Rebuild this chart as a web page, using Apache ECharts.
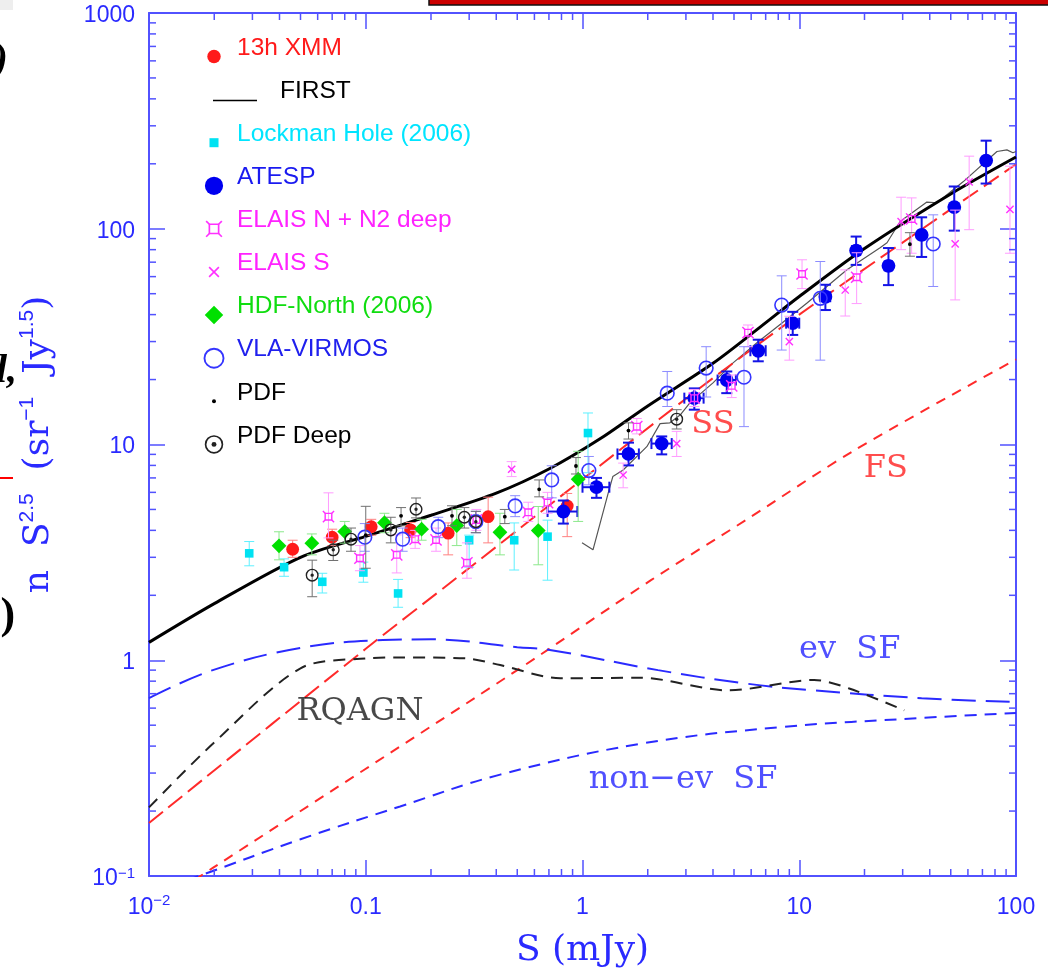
<!DOCTYPE html>
<html>
<head>
<meta charset="utf-8">
<script src="https://cdn.jsdelivr.net/npm/echarts@6/dist/echarts.min.js"></script>
<style>
  html, body { margin: 0; padding: 0; background: #ffffff; }
  #chart { width: 1048px; height: 970px; }
</style>
</head>
<body>
<div id="chart"></div>
<script>
// Euclidean-normalized radio source counts n S^2.5 versus flux density S (mJy)

// ---- axes ----
const xTickValues = [0.01, 0.1, 1, 10, 100];
const xTickLabels = ['{b|10}{sup|−2}', '{b|0.1}', '{b|1}', '{b|10}', '{b|100}'];
const yTickValues = [0.1, 1, 10, 100, 1000];
const yTickLabels = ['{b|10}{sup|−1}', '{b|1}', '{b|10}', '{b|100}', '{b|1000}'];
const minorMantissas = [2, 3, 4, 5, 6, 7, 8, 9];
const xDecades = [0.01, 0.1, 1, 10];
const yDecades = [0.1, 1, 10, 100];

// ---- survey data: [S, n S^2.5, low, high] ----
const xmm13h = [
  [0.046, 3.27, 3.0, 3.6], [0.070, 3.72, 3.4, 4.05], [0.106, 4.16, 3.8, 4.5],
  [0.161, 4.02, 3.7, 4.35], [0.240, 3.88, 3.08, 4.33], [0.367, 4.63, 3.5, 5.7],
  [0.85, 5.19, 3.74, 5.93]
];
const lockmanHole = [
  [0.029, 3.13, 2.74, 3.55], [0.042, 2.70, 2.45, 2.95], [0.063, 2.31, 2.05, 2.53],
  [0.0975, 2.55, 2.3, 2.85], [0.141, 2.04, 1.76, 2.37], [0.30, 3.6, 2.7, 3.8],
  [0.484, 3.6, 2.62, 4.33], [0.69, 3.74, 2.35, 4.46], [1.06, 11.3, 7.4, 14.0]
];
// ATESP also carries horizontal bars: [S, value, low, high, Slow, Shigh]
const atesp = [
  [0.816, 4.89, 4.3, 5.5, 0.69, 0.947], [1.16, 6.34, 5.66, 7.0, 1.0, 1.33],
  [1.63, 9.04, 8.0, 10.2, 1.45, 1.82], [2.32, 10.1, 9.0, 10.9, 2.08, 2.58],
  [3.28, 16.4, 14.5, 18.2, 2.95, 3.62], [4.63, 19.9, 17.3, 21.8, 4.2, 5.1],
  [6.47, 27.2, 24.3, 30.6, 5.95, 7.0], [9.33, 36.5, 32.2, 41.2, 8.7, 10.0],
  [13.2, 48.4, 42, 55, 12.5, 13.9], [18.3, 79.2, 68, 92, 17.5, 19.1],
  [25.8, 67.3, 54.8, 81.4, 24.8, 26.8], [36.7, 93.6, 74, 113, 35.5, 37.9],
  [51.9, 126, 98, 157, 50.5, 53.3], [72.8, 207, 162, 256, 70.9, 74.7]
];
const elaisN = [
  [0.0673, 4.63, 3.69, 5.97], [0.094, 2.97, 2.6, 3.4], [0.139, 3.08, 2.54, 3.81],
  [0.169, 3.64, 3.3, 4.0], [0.211, 3.61, 3.2, 4.1], [0.293, 2.83, 2.4, 3.5],
  [0.324, 4.47, 4.0, 5.0], [0.562, 4.85, 4.4, 5.4], [0.69, 5.38, 4.8, 6.0],
  [1.78, 12.1, 11.2, 13.2], [3.28, 16.4, 15.0, 18.0], [4.88, 18.7, 16.5, 21.0],
  [5.8, 33.0, 28.4, 35.8], [10.3, 61.7, 52.8, 71.8], [18.4, 59.6, 45, 77.4],
  [33.0, 111, 77, 139]
];
const elaisS = [
  [0.471, 7.68, 7.1, 8.33], [1.54, 7.22, 6.3, 8.2], [2.72, 10.1, 8.8, 11.5],
  [9.0, 30, 24.6, 39.3], [16.3, 52, 39.4, 64.5], [29.5, 108, 80, 140],
  [52.4, 85.1, 46.8, 122], [60.8, 165, 99, 217], [93.8, 123, 77, 195]
];
const hdfNorth = [
  [0.0398, 3.39, 2.92, 3.94], [0.0564, 3.49, 3.08, 3.85], [0.080, 3.95, 3.49, 4.4],
  [0.122, 4.34, 3.9, 4.8], [0.181, 4.05, 3.6, 4.5], [0.263, 4.21, 3.4, 5.0],
  [0.416, 3.92, 3.08, 4.8], [0.625, 3.99, 2.77, 5.16], [0.955, 6.9, 4.4, 9.3]
];
const vlaVirmos = [
  [0.099, 3.72, 3.2, 4.3], [0.148, 3.64, 3.2, 4.1], [0.216, 4.16, 3.7, 4.6],
  [0.322, 4.39, 3.9, 4.9], [0.489, 5.19, 4.63, 5.79], [0.721, 6.85, 5.66, 7.97],
  [1.07, 7.57, 6.5, 8.8], [2.46, 17.3, 15.0, 21.8], [3.72, 22.6, 16.6, 28.4],
  [5.56, 20.5, 12.1, 28.4], [8.3, 44.3, 27.4, 60.5], [12.5, 47.6, 24.6, 70.5],
  [41.5, 85, 54, 116]
];
const pdf = [
  [0.1, 3.8, 2.67, 5.17], [0.1455, 4.67, 4.2, 5.1], [0.25, 4.67, 4.2, 5.2],
  [0.438, 4.63, 4.3, 5.0], [0.631, 6.2, 5.72, 6.85], [0.933, 7.95, 7.3, 8.7],
  [1.63, 11.6, 10.6, 12.6], [32.4, 84.8, 74.6, 95.9]
];
const pdfDeep = [
  [0.0566, 2.48, 1.97, 2.91], [0.0708, 3.25, 2.9, 3.6], [0.0855, 3.64, 3.2, 4.1],
  [0.1305, 4.02, 3.5, 4.6], [0.1706, 5.01, 4.57, 5.65], [0.285, 4.6, 4.1, 5.1],
  [0.322, 4.39, 3.9, 4.9], [2.72, 13.1, 11.8, 14.5]
];

// ---- FIRST counts ----
const firstS   = [0.995, 1.118, 1.325, 1.38, 1.54, 1.98, 2.28, 2.53, 2.82, 3.13, 4.0, 4.95, 6.38, 8.3, 10.9, 16.6, 23.6, 25.4, 29.2, 38.8, 43.2, 57, 81.7, 90.8, 96.8, 100];
const firstVal = [3.50, 3.25, 6.15, 7.1, 7.62, 9.77, 12.5, 12.6, 13.7, 15.6, 19.3, 23.9, 29.6, 36.5, 45.4, 64.6, 81.7, 86.1, 108, 133, 132, 165, 228, 232, 225, 228];

// ---- model components ----
const totalS   = [0.01, 0.02, 0.05, 0.1, 0.2, 0.4, 0.7, 1.2, 2.0, 4.0, 6.6, 10, 20, 50, 100];
const totalVal = [1.21, 1.83, 3.0, 3.75, 4.7, 5.95, 7.7, 10.6, 15.1, 23.8, 35.0, 48.5, 81, 145, 215];
const ssS   = [0.01, 0.1, 0.264, 1, 3.24, 10, 100];
const ssVal = [0.176, 1.13, 2.42, 6.9, 17.3, 40, 199];
const fsS   = [0.01, 0.0197, 0.5, 2.07, 5.68, 18.1, 100];
const fsVal = [0.07, 0.109, 0.90, 2.35, 4.47, 9.44, 24.8];
const evSfS   = [0.01, 0.0197, 0.05, 0.12, 0.2, 0.5, 0.73, 2.23, 5.66, 11.7, 36.7, 100];
const evSfVal = [0.667, 0.90, 1.14, 1.24, 1.25, 1.15, 1.11, 0.90, 0.78, 0.725, 0.667, 0.64];
const nonEvSfS   = [0.01, 0.017, 0.05, 0.144, 0.417, 1.85, 8.24, 36.7, 100];
const nonEvSfVal = [0.083, 0.1, 0.148, 0.21, 0.295, 0.41, 0.49, 0.54, 0.57];
const rqagnS   = [0.01, 0.0197, 0.05, 0.1, 0.144, 0.29, 0.417, 0.79, 1.85, 4.7, 11.7, 17, 30.5];
const rqagnVal = [0.208, 0.41, 0.918, 1.02, 1.03, 1.02, 0.95, 0.825, 0.83, 0.725, 0.81, 0.74, 0.586];

// ---- curve annotations ----
const annoText = ['SS', 'FS', 'ev  SF', 'non−ev  SF', 'RQAGN'];
const annoS    = [4.0, 25.1, 17.1, 2.91, 0.094];
const annoVal  = [12.3, 7.7, 1.12, 0.279, 0.575];

// ---- styling ----
const AXIS = '#5252ff';
const LABEL = '#2a2aff';
const SERIF = '"DejaVu Serif", "Liberation Serif", serif';
const SANS = '"Liberation Sans", Arial, Helvetica, sans-serif';
const X_MIN = 0.01, X_MAX = 100, Y_MIN = 0.1, Y_MAX = 1000;

const pairs = (xs, ys) => xs.map((x, i) => [x, ys[i]]);

function marker(kind, x, y, color, k) {
  switch (kind) {
    case 'disc':
      return [{ type: 'circle', shape: { cx: x, cy: y, r: 6.4 * k }, style: { fill: color } }];
    case 'square': {
      const h = 4.3 * k;
      return [{ type: 'rect', shape: { x: x - h, y: y - h, width: 2 * h, height: 2 * h }, style: { fill: color } }];
    }
    case 'diamond': {
      const h = 7.4 * k;
      return [{ type: 'polygon', shape: { points: [[x, y - h], [x + h, y], [x, y + h], [x - h, y]] }, style: { fill: color } }];
    }
    case 'ring':
      return [{ type: 'circle', shape: { cx: x, cy: y, r: 6.8 * k }, style: { fill: 'none', stroke: color, lineWidth: 1.6 * Math.sqrt(k) } }];
    case 'ringdot':
      return [
        { type: 'circle', shape: { cx: x, cy: y, r: 5.8 * k }, style: { fill: 'none', stroke: color, lineWidth: 1.4 * Math.sqrt(k) } },
        { type: 'circle', shape: { cx: x, cy: y, r: 1.7 * k }, style: { fill: color } }
      ];
    case 'star4': {
      const h = 3.3 * k, s = 2.3 * k, st = { stroke: color, lineWidth: 1.4 * Math.sqrt(k), fill: 'none' };
      return [
        { type: 'rect', shape: { x: x - h, y: y - h, width: 2 * h, height: 2 * h }, style: st },
        { type: 'line', shape: { x1: x - h, y1: y - h, x2: x - h - s, y2: y - h - s }, style: st },
        { type: 'line', shape: { x1: x + h, y1: y - h, x2: x + h + s, y2: y - h - s }, style: st },
        { type: 'line', shape: { x1: x - h, y1: y + h, x2: x - h - s, y2: y + h + s }, style: st },
        { type: 'line', shape: { x1: x + h, y1: y + h, x2: x + h + s, y2: y + h + s }, style: st }
      ];
    }
    case 'cross': {
      const h = 3.6 * k, st = { stroke: color, lineWidth: 1.4 * Math.sqrt(k) };
      return [
        { type: 'line', shape: { x1: x - h, y1: y - h, x2: x + h, y2: y + h }, style: st },
        { type: 'line', shape: { x1: x - h, y1: y + h, x2: x + h, y2: y - h }, style: st }
      ];
    }
    case 'dot':
    default:
      return [{ type: 'circle', shape: { cx: x, cy: y, r: 1.9 * k }, style: { fill: color } }];
  }
}

// Survey definitions (legend order)
const surveys = [
  { name: '13h XMM', data: xmm13h, kind: 'disc', color: '#ff1a1a', err: '#ff8080', errW: 1, text: '#ff1a1a', lk: 1.05 },
  { name: 'FIRST', line: true, text: '#000000' },
  { name: 'Lockman Hole (2006)', data: lockmanHole, kind: 'square', color: '#00e2f2', err: '#5ef0ff', errW: 1, text: '#00e5ff', lk: 1.05 },
  { name: 'ATESP', data: atesp, kind: 'disc', color: '#0000f0', err: '#1414e6', errW: 2, text: '#1a1af0', lk: 1.42, big: 1.08, xerr: true },
  { name: 'ELAIS N + N2 deep', data: elaisN, kind: 'star4', color: '#ff30ff', err: '#ff9cff', errW: 1, text: '#ff22ff', lk: 1.4 },
  { name: 'ELAIS S', data: elaisS, kind: 'cross', color: '#ff30ff', err: '#ff9cff', errW: 1, text: '#ff22ff', lk: 1.35 },
  { name: 'HDF-North (2006)', data: hdfNorth, kind: 'diamond', color: '#00e000', err: '#8ce88c', errW: 1, text: '#10dd10', lk: 1.25 },
  { name: 'VLA-VIRMOS', data: vlaVirmos, kind: 'ring', color: '#3535ff', err: '#8c8cff', errW: 1, text: '#2020ee', lk: 1.4 },
  { name: 'PDF', data: pdf, kind: 'dot', color: '#000000', err: '#707070', errW: 1, text: '#000000', lk: 1.05 },
  { name: 'PDF Deep', data: pdfDeep, kind: 'ringdot', color: '#222222', err: '#707070', errW: 1, text: '#000000', lk: 1.45 }
];

function surveyRenderer(sv) {
  return function (params, api) {
    const S = api.value(0), v = api.value(1);
    const c = api.coord([S, v]);
    const lo = api.coord([S, api.value(2)]);
    const hi = api.coord([S, api.value(3)]);
    const cap = sv.xerr ? 5.5 : 5;
    const es = { stroke: sv.err, lineWidth: sv.errW };
    const ch = [
      { type: 'line', shape: { x1: c[0], y1: hi[1], x2: c[0], y2: lo[1] }, style: es },
      { type: 'line', shape: { x1: c[0] - cap, y1: hi[1], x2: c[0] + cap, y2: hi[1] }, style: es },
      { type: 'line', shape: { x1: c[0] - cap, y1: lo[1], x2: c[0] + cap, y2: lo[1] }, style: es }
    ];
    if (sv.xerr) {
      const l = api.coord([api.value(4), v]), r = api.coord([api.value(5), v]);
      ch.push(
        { type: 'line', shape: { x1: l[0], y1: c[1], x2: r[0], y2: c[1] }, style: es },
        { type: 'line', shape: { x1: l[0], y1: c[1] - cap, x2: l[0], y2: c[1] + cap }, style: es },
        { type: 'line', shape: { x1: r[0], y1: c[1] - cap, x2: r[0], y2: c[1] + cap }, style: es }
      );
    }
    return { type: 'group', children: ch.concat(marker(sv.kind, c[0], c[1], sv.color, sv.big || 1)) };
  };
}

// minor tick positions on the log axes: [x, y, which]
const minorTickData = [];
xDecades.forEach(d => minorMantissas.forEach(m => minorTickData.push([m * d, 1, 0])));
yDecades.forEach(d => minorMantissas.forEach(m => minorTickData.push([1, m * d, 1])));

function minorTickRenderer(params, api) {
  const st = { stroke: AXIS, lineWidth: 1.5 };
  const L = 7;
  if (api.value(2) === 0) {
    const v = api.value(0);
    const b = api.coord([v, Y_MIN]), t = api.coord([v, Y_MAX]);
    return { type: 'group', children: [
      { type: 'line', shape: { x1: b[0], y1: b[1], x2: b[0], y2: b[1] - L }, style: st },
      { type: 'line', shape: { x1: t[0], y1: t[1], x2: t[0], y2: t[1] + L }, style: st }
    ] };
  }
  const v = api.value(1);
  const l = api.coord([X_MIN, v]), r = api.coord([X_MAX, v]);
  return { type: 'group', children: [
    { type: 'line', shape: { x1: l[0], y1: l[1], x2: l[0] + L, y2: l[1] }, style: st },
    { type: 'line', shape: { x1: r[0], y1: r[1], x2: r[0] - L, y2: r[1] }, style: st }
  ] };
}

function tickLabel(values, labels) {
  return function (v) {
    const i = values.findIndex(t => Math.abs(Math.log10(t) - Math.log10(v)) < 1e-6);
    return i >= 0 ? labels[i] : '';
  };
}

const xTickRich = {
  b: { fontFamily: SANS, fontSize: 23, lineHeight: 30, color: LABEL },
  sup: { fontFamily: SANS, fontSize: 15, lineHeight: 16, verticalAlign: 'top', color: LABEL }
};
const yTickRich = {
  b: { fontFamily: SANS, fontSize: 23, lineHeight: 30, padding: [5, 0, 0, 0], color: LABEL },
  sup: { fontFamily: SANS, fontSize: 15, lineHeight: 16, verticalAlign: 'top', padding: [5, 0, 0, 0], color: LABEL }
};

const axisCommon = {
  type: 'log', logBase: 10,
  axisLine: { show: true, onZero: false, lineStyle: { color: AXIS, width: 2 } },
  axisTick: { show: true, inside: true, length: 16, lineStyle: { color: AXIS, width: 1.5 } },
  minorTick: { show: false },
  splitLine: { show: false }
};

// ---- legend drawn as graphic elements ----
const legendElements = [];
surveys.forEach((sv, i) => {
  const ty = 48 + 43.1 * i;
  const iy = ty + 8.5;
  if (sv.line) {
    legendElements.push({ type: 'line', shape: { x1: 213, y1: iy + 1, x2: 257, y2: iy + 1 }, style: { stroke: '#000', lineWidth: 1.5 } });
  } else {
    marker(sv.kind, 214, iy, sv.color, sv.lk).forEach(e => legendElements.push(e));
  }
  legendElements.push({
    type: 'text', x: sv.line ? 280 : 237, y: ty,
    style: { text: sv.name, fill: sv.text, font: '24.5px ' + SANS, textVerticalAlign: 'middle', verticalAlign: 'middle' }
  });
});

// frame fragments along the page edges
const edgeElements = [
  { type: 'rect', shape: { x: 0, y: 0, width: 13, height: 10 }, style: { fill: '#eeeeee' } },
  { type: 'rect', shape: { x: 429, y: -2, width: 625, height: 7 }, style: { fill: '#cc0000', stroke: '#111111', lineWidth: 1.5 } },
  { type: 'text', x: -6, y: 61, style: { text: ')', fill: '#000', font: 'italic bold 42px "Liberation Serif", serif', textVerticalAlign: 'middle', verticalAlign: 'middle' } },
  { type: 'text', x: -4, y: 372, style: { text: 'l,', fill: '#000', font: 'italic bold 40px "Liberation Serif", serif', textVerticalAlign: 'middle', verticalAlign: 'middle' } },
  { type: 'line', shape: { x1: 0, y1: 478, x2: 13, y2: 478 }, style: { stroke: '#ff0000', lineWidth: 2 } },
  { type: 'text', x: -19, y: 617, style: { text: 'e)', fill: '#000', font: 'bold 44px "Liberation Serif", serif', textVerticalAlign: 'middle', verticalAlign: 'middle' } }
];

const modelLine = (name, xs, ys, color, width, type, extra) => Object.assign({
  type: 'line', name, data: pairs(xs, ys), symbol: 'none', showSymbol: false,
  lineStyle: { color, width, type }, silent: true, clip: true, z: 3, animation: false
}, extra || {});

const series = [
  modelLine('FIRST', firstS, firstVal, '#555555', 1.2, 'solid'),
  modelLine('SS', ssS, ssVal, '#ff2a2a', 2, [18, 7], { smooth: 0.3 }),
  modelLine('FS', fsS, fsVal, '#ff2a2a', 2, [10, 8], { smooth: 0.3 }),
  modelLine('ev SF', evSfS, evSfVal, '#2a2aff', 2, [24, 10], { smooth: 0.4 }),
  modelLine('non-ev SF', nonEvSfS, nonEvSfVal, '#2a2aff', 2, [12, 8], { smooth: 0.4 }),
  modelLine('RQAGN', rqagnS, rqagnVal, '#222222', 2, [12, 8], { smooth: 0.3 }),
  modelLine('total', totalS, totalVal, '#000000', 3, 'solid', { smooth: 0.3, z: 4 })
];

surveys.filter(sv => !sv.line).forEach(sv => {
  series.push({
    type: 'custom', name: sv.name, data: sv.data, renderItem: surveyRenderer(sv),
    encode: { x: 0, y: 1 }, silent: true, z: 6, animation: false
  });
});

series.push({
  type: 'custom', name: 'minor ticks', data: minorTickData, renderItem: minorTickRenderer,
  encode: { x: 0, y: 1 }, silent: true, z: 8, animation: false
});

const annoColors = ['#ff2020', '#ff2020', '#2424ff', '#2424ff', '#1a1a1a'];
series.push({
  type: 'scatter', name: 'annotations', symbolSize: 0, silent: true, z: 7, animation: false,
  data: annoS.map((s, i) => ({ name: annoText[i], value: [s, annoVal[i]], label: { color: annoColors[i] } })),
  label: { show: true, position: 'inside', formatter: p => p.name, fontFamily: SERIF, fontSize: 32 },
  emphasis: { disabled: true }
});

const option = {
  backgroundColor: '#ffffff',
  animation: false,
  grid: { left: 149, right: 32, top: 13, bottom: 94, containLabel: false, outerBoundsMode: 'none' },
  xAxis: [
    Object.assign({}, axisCommon, {
      min: X_MIN, max: X_MAX, position: 'bottom',
      axisLabel: { show: true, margin: 17, formatter: tickLabel(xTickValues, xTickLabels), rich: xTickRich, showMinLabel: true, showMaxLabel: true },
      name: 'S (mJy)', nameLocation: 'middle', nameGap: 57,
      nameTextStyle: { fontFamily: SERIF, fontSize: 36, color: LABEL }
    }),
    Object.assign({}, axisCommon, {
      min: X_MIN, max: X_MAX, position: 'top', axisLabel: { show: false }
    })
  ],
  yAxis: [
    Object.assign({}, axisCommon, {
      min: Y_MIN, max: Y_MAX, position: 'left',
      axisLabel: { show: true, margin: 14, formatter: tickLabel(yTickValues, yTickLabels), rich: yTickRich, showMinLabel: true, showMaxLabel: true },
      name: '{s|n  S}{p|2.5}{s|  (sr}{p|−1}{s|  Jy}{p|1.5}{s|)}',
      nameLocation: 'middle', nameRotate: 90, nameGap: 88,
      nameTextStyle: {
        color: LABEL,
        rich: {
          s: { fontFamily: SERIF, fontSize: 36, lineHeight: 44, color: LABEL },
          p: { fontFamily: SANS, fontSize: 21, lineHeight: 22, verticalAlign: 'top', color: LABEL }
        }
      }
    }),
    Object.assign({}, axisCommon, {
      min: Y_MIN, max: Y_MAX, position: 'right', axisLabel: { show: false }
    })
  ],
  graphic: { elements: legendElements.concat(edgeElements) },
  series
};

const chart = echarts.init(document.getElementById('chart'), null, { renderer: 'canvas' });
chart.setOption(option);
</script>
</body>
</html>
